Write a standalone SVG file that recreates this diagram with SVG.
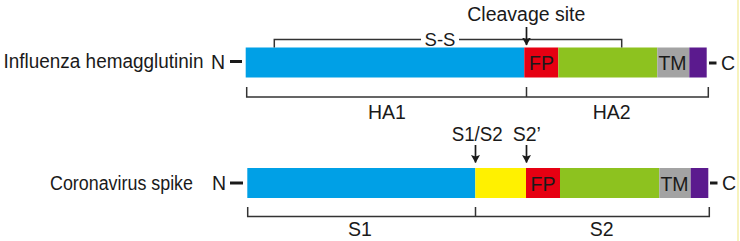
<svg xmlns="http://www.w3.org/2000/svg" width="740" height="241" viewBox="0 0 740 241">
<style>
text{font-family:"Liberation Sans",Arial,sans-serif;fill:#1a1a1a;font-size:19.5px}
.c{text-anchor:middle}
.br{fill:none;stroke:#333;stroke-width:1.5}
.ar{stroke:#1a1a1a;stroke-width:1.7;marker-end:url(#ah)}
.dash{stroke:#1a1a1a;stroke-width:3}
.blue{fill:#00a0e6}.red{fill:#e60012}.green{fill:#8dc21f}.grey{fill:#a3a3a3}.purple{fill:#5b1a8e}.yellow{fill:#fff100}
</style>
<defs>
<marker id="ah" markerWidth="8" markerHeight="9" viewBox="0 0 8 9" refX="7.5" refY="4.5" orient="auto" markerUnits="userSpaceOnUse">
<path d="M0,0 L8,4.5 L0,9 L1.5,4.5 Z" fill="#1a1a1a"/>
</marker>
</defs>
<rect width="740" height="241" fill="#fff"/>
<line x1="738" y1="0" x2="738" y2="241" stroke="#f4efa8" stroke-width="1.5"/>
<g id="influenza">
<text x="3.5" y="68" textLength="200" lengthAdjust="spacingAndGlyphs">Influenza hemagglutinin</text>
<text x="211" y="69">N</text>
<line class="dash" x1="230" y1="61.5" x2="242" y2="61.5"/>
<rect class="blue" x="245.7" y="47.5" width="278.6" height="30"/>
<rect class="red" x="524.3" y="47.5" width="34" height="30"/>
<rect class="green" x="558.3" y="47.5" width="99" height="30"/>
<rect class="grey" x="657.3" y="47.5" width="32" height="30"/>
<rect class="purple" x="689.3" y="47.5" width="17.4" height="30"/>
<text class="c" x="541.5" y="70">FP</text>
<text class="c" x="672.5" y="70">TM</text>
<line class="dash" x1="709" y1="63" x2="716.5" y2="63"/>
<text x="721" y="70">C</text>
</g>
<g id="coronavirus">
<text x="50" y="190" textLength="143" lengthAdjust="spacingAndGlyphs">Coronavirus spike</text>
<text x="212" y="190">N</text>
<line class="dash" x1="230" y1="183" x2="243" y2="183"/>
<rect class="blue" x="247.3" y="168" width="228" height="30"/>
<rect class="yellow" x="475.3" y="168" width="50.7" height="30"/>
<rect class="red" x="526" y="168" width="34" height="30"/>
<rect class="green" x="560" y="168" width="99.3" height="30"/>
<rect class="grey" x="659.3" y="168" width="31.4" height="30"/>
<rect class="purple" x="690.7" y="168" width="17.6" height="30"/>
<text class="c" x="543" y="190.5">FP</text>
<text class="c" x="674.5" y="190.5">TM</text>
<line class="dash" x1="710" y1="183" x2="717.5" y2="183"/>
<text x="722" y="190">C</text>
</g>
<g id="connectors">
<path class="br" d="M274.3,47.5 V39.5 H621.7 V47.5"/>
<rect x="421" y="32" width="38" height="15" fill="#fff"/>
<text class="c" x="440" y="45.5" style="font-size:18.5px">S-S</text>
<path class="br" d="M246.7,87 V97 H708.3 V87 M526.5,87 V97"/>
<path class="br" d="M247.7,207 V216.5 H709.3 V207 M475.5,207 V216.5"/>
<line class="ar" x1="526.5" y1="27" x2="526.5" y2="45"/>
<line class="ar" x1="475.5" y1="145" x2="475.5" y2="162.5"/>
<line class="ar" x1="526.5" y1="145" x2="526.5" y2="162.5"/>
</g>
<g id="labels">
<text x="467.3" y="21" textLength="118" lengthAdjust="spacingAndGlyphs">Cleavage site</text>
<text class="c" x="387" y="118.5">HA1</text>
<text class="c" x="611.7" y="118.5">HA2</text>
<text x="451.7" y="141" textLength="51" lengthAdjust="spacingAndGlyphs">S1/S2</text>
<text x="512.7" y="141">S2’</text>
<text class="c" x="360" y="236">S1</text>
<text class="c" x="601.7" y="235.5">S2</text>
</g>
</svg>
